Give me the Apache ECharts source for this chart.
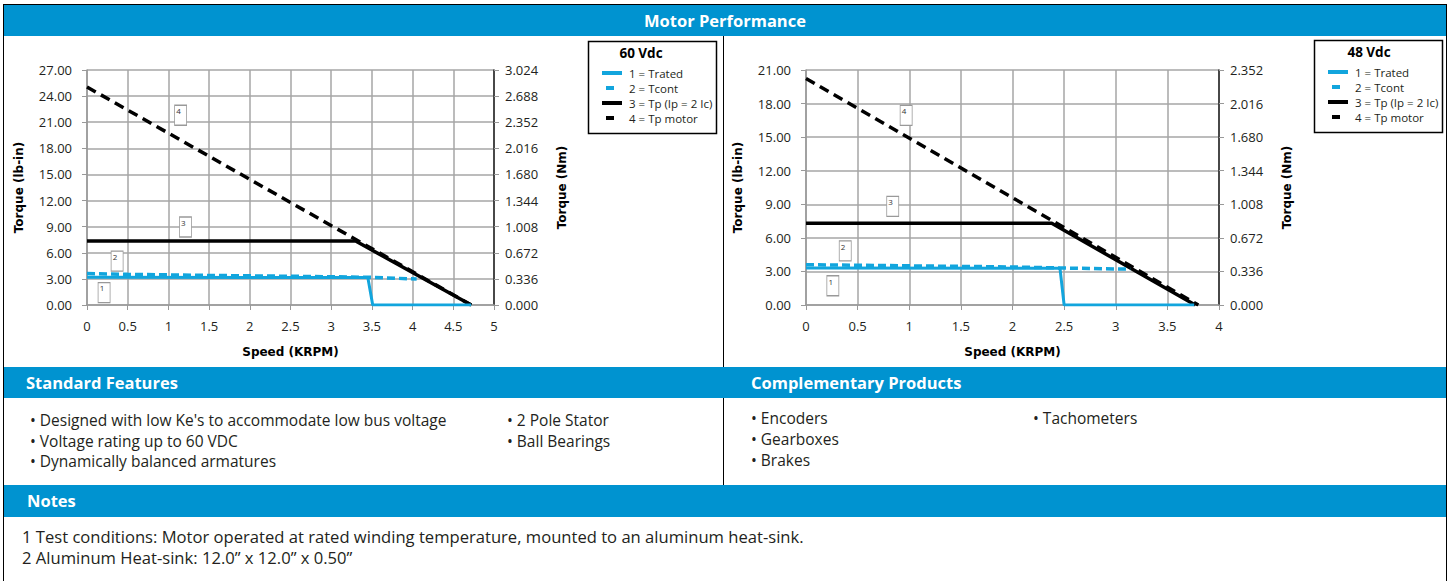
<!DOCTYPE html>
<html>
<head>
<meta charset="utf-8">
<title>Motor Performance</title>
<script src="https://cdn.jsdelivr.net/npm/echarts@6/dist/echarts.min.js"></script>
<style>
  html, body { margin: 0; padding: 0; background: #fff; }
  body { width: 1450px; height: 581px; position: relative; overflow: hidden; font-family: "Open Sans", sans-serif; color: #231f20; }
  .frame { position: absolute; left: 3px; top: 4px; width: 1444px; height: 600px; border: 1px solid #000; box-sizing: border-box; }
  .bar { position: absolute; left: 4px; width: 1442px; background: #0093d0; color: #fff; font-weight: bold; font-size: 16.5px; }
  .vline { position: absolute; left: 723px; width: 1px; background: #000; }
  .txt { position: absolute; font-size: 15.5px; line-height: 20.5px; white-space: nowrap; }
  #chart { position: absolute; left: 0; top: 0; width: 1450px; height: 581px; }
</style>
</head>
<body>
<div class="frame"></div>
<div class="bar" style="top:5px;height:31px;line-height:31px;text-align:center;">Motor Performance</div>
<div class="vline" style="top:36px;height:331px;"></div>
<div class="bar" style="top:367px;height:31px;line-height:31px;">
  <span style="position:absolute;left:22px;">Standard Features</span>
  <span style="position:absolute;left:747px;">Complementary Products</span>
</div>
<div class="vline" style="top:398px;height:87px;"></div>
<div class="txt" style="left:30px;top:410px;">• Designed with low Ke's to accommodate low bus voltage<br>• Voltage rating up to 60 VDC<br>• Dynamically balanced armatures</div>
<div class="txt" style="left:507px;top:410px;">• 2 Pole Stator<br>• Ball Bearings</div>
<div class="txt" style="left:751px;top:408px;line-height:21px;">• Encoders<br>• Gearboxes<br>• Brakes</div>
<div class="txt" style="left:1033px;top:408px;">• Tachometers</div>
<div class="bar" style="top:485px;height:32px;line-height:32px;"><span style="position:absolute;left:23px;">Notes</span></div>
<div class="txt" style="left:22px;top:527px;font-size:16.6px;">1 Test conditions: Motor operated at rated winding temperature, mounted to an aluminum heat-sink.<br>2 Aluminum Heat-sink: 12.0” x 12.0” x 0.50”</div>
<div id="chart"></div>
<script>
// legend names (same for both panels)
const names = ['1 = Trated', '2 = Tcont', '3 = Tp (Ip = 2 Ic)', '4 = Tp motor'];
const boxLabels = ['1', '2', '3', '4'];

// 60 Vdc panel: [speed KRPM, torque lb-in]
const trated60 = [[0, 3.2], [3.45, 3.15], [3.51, 0], [4.72, 0]];
const tcont60 = [[0, 3.62], [0.5, 3.52], [1, 3.46], [1.5, 3.4], [2, 3.35], [2.5, 3.3], [3, 3.25], [3.5, 3.18], [4.05, 2.98]];
const tp60 = [[0, 7.35], [3.3, 7.35], [4.72, 0]];
const tpMotor60 = [[0, 25.05], [4.72, 0]];
const boxes60 = [[0.21, 1.42], [0.37, 5.05], [1.21, 8.96], [1.15, 21.8]];

// 48 Vdc panel
const trated48 = [[0, 3.3], [2.46, 3.28], [2.5, 0], [3.76, 0]];
const tcont48 = [[0, 3.6], [0.5, 3.55], [1, 3.5], [1.5, 3.45], [2, 3.4], [2.5, 3.3], [3.14, 3.2]];
const tp48 = [[0, 7.3], [2.38, 7.3], [3.77, 0]];
const tpMotor48 = [[0, 20.25], [3.8, 0]];
const boxes48 = [[0.26, 1.72], [0.38, 4.84], [0.84, 8.82], [0.97, 16.95]];

const blue = '#12a5dd';
const font = 'Open Sans';
const nameStyle = { fontFamily: 'DejaVu Sans', fontWeight: 'bold', fontSize: 12, color: '#000' };

function xAx(gi, max) {
  return {
    type: 'value', gridIndex: gi, min: 0, max: max, interval: 0.5,
    name: 'Speed (KRPM)', nameLocation: 'middle', nameGap: 41, nameTextStyle: nameStyle,
    axisLine: { lineStyle: { color: '#999', width: 1.5 } },
    axisTick: { show: true, length: 5, lineStyle: { color: '#999' } },
    axisLabel: { margin: 14, fontFamily: font, fontSize: 13, color: '#231f20' },
    splitLine: { lineStyle: { color: '#a6a6a6', width: 1.5 } }
  };
}
function yLeft(gi, max) {
  return {
    type: 'value', gridIndex: gi, min: 0, max: max, interval: 3, position: 'left',
    name: 'Torque (lb-in)', nameLocation: 'middle', nameGap: 62, nameRotate: 90, nameTextStyle: nameStyle,
    axisLine: { show: true, lineStyle: { color: '#999', width: 1.5 } },
    axisTick: { show: true, length: 5, lineStyle: { color: '#999' } },
    axisLabel: { margin: 15, fontFamily: font, fontSize: 13, color: '#231f20', formatter: v => v.toFixed(2) },
    splitLine: { lineStyle: { color: '#a6a6a6', width: 1.5 } }
  };
}
function yRight(gi, max) {
  return {
    type: 'value', gridIndex: gi, min: 0, max: max, interval: 0.336, position: 'right',
    name: 'Torque (Nm)', nameLocation: 'middle', nameGap: 62, nameRotate: 90, nameTextStyle: nameStyle,
    axisLine: { show: true, lineStyle: { color: '#222', width: 1.5 } },
    axisTick: { show: true, length: 5, lineStyle: { color: '#999' } },
    axisLabel: { margin: 11, fontFamily: font, fontSize: 13, color: '#231f20', formatter: v => v.toFixed(3) },
    splitLine: { show: false }
  };
}
function lines(gi, tr, tc, tp, tm, boxes) {
  const xi = gi, yi = gi * 2;
  const base = { type: 'line', xAxisIndex: xi, yAxisIndex: yi, symbol: 'none', silent: true };
  return [
    Object.assign({}, base, { name: names[3], data: tm, z: 2, color: '#000',
      lineStyle: { color: '#000', width: 3.5, type: [10, 6] } }),
    Object.assign({}, base, { name: names[2], data: tp, z: 3, color: '#000',
      lineStyle: { color: '#000', width: 3.5 } }),
    Object.assign({}, base, { name: names[1], data: tc, z: 4, color: blue,
      lineStyle: { color: blue, width: 3.5, type: [8, 4] } }),
    Object.assign({}, base, { name: names[0], data: tr, z: 5, color: blue,
      lineStyle: { color: blue, width: 3 } }),
    {
      type: 'scatter', xAxisIndex: xi, yAxisIndex: yi, silent: true, z: 6,
      symbol: 'rect', symbolSize: [12, 20],
      itemStyle: { color: '#fff', borderColor: '#999', borderWidth: 1, opacity: 1 },
      label: { show: true, position: 'insideTopLeft', distance: 2, fontSize: 8, fontFamily: font, color: '#333',
        formatter: p => boxLabels[p.dataIndex] },
      data: boxes
    }
  ];
}

const solidIcon = 'path://M0,0M20,10M0,3L20,3L20,7L0,7Z';
const dashIcon = 'path://M0,0M20,10M4,3L12,3L12,7L4,7Z';
function legend(left, top) {
  return {
    left: left, top: top, orient: 'vertical', padding: 0, itemGap: 1, itemWidth: 20, itemHeight: 10,
    selectedMode: false, itemStyle: { borderWidth: 0 },
    textStyle: { fontFamily: font, fontSize: 11.5, lineHeight: 14, color: '#231f20', padding: [0, 0, 0, 2] },
    data: [
      { name: names[0], icon: solidIcon },
      { name: names[1], icon: dashIcon },
      { name: names[2], icon: solidIcon },
      { name: names[3], icon: dashIcon }
    ]
  };
}

const chart = echarts.init(document.getElementById('chart'), null, { renderer: 'svg' });
chart.setOption({
  animation: false,
  backgroundColor: 'transparent',
  grid: [
    { left: 87, top: 70, width: 407, height: 235 },
    { left: 806, top: 70, width: 413, height: 235 }
  ],
  xAxis: [xAx(0, 5), xAx(1, 4)],
  yAxis: [yLeft(0, 27), yRight(0, 3.024), yLeft(1, 21), yRight(1, 2.352)],
  legend: [legend(602, 66), legend(1328, 65)],
  graphic: [
    { type: 'rect', shape: { x: 588.5, y: 41.5, width: 128, height: 92 }, style: { fill: '#fff', stroke: '#000', lineWidth: 1.5 }, z: -1 },
    { type: 'text', x: 641, y: 53, style: { text: '60 Vdc', font: 'bold 13.5px "Open Sans"', fill: '#000', align: 'center', verticalAlign: 'middle' } },
    { type: 'rect', shape: { x: 1314.5, y: 40.5, width: 128, height: 92 }, style: { fill: '#fff', stroke: '#000', lineWidth: 1.5 }, z: -1 },
    { type: 'text', x: 1369, y: 52, style: { text: '48 Vdc', font: 'bold 13.5px "Open Sans"', fill: '#000', align: 'center', verticalAlign: 'middle' } }
  ],
  series: lines(0, trated60, tcont60, tp60, tpMotor60, boxes60)
    .concat(lines(1, trated48, tcont48, tp48, tpMotor48, boxes48))
});
</script>
</body>
</html>
